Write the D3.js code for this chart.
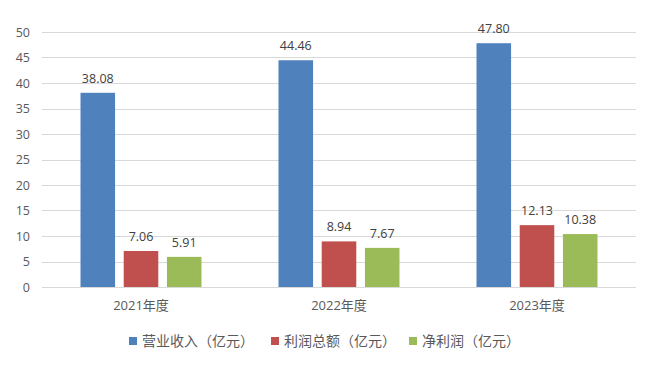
<!DOCTYPE html>
<html lang="zh">
<head>
<meta charset="UTF-8" />
<title>营业收入与利润</title>
<script src="https://d3js.org/d3.v7.min.js"></script>
<style>
  body { margin: 0; background: #fff; }
  text { font-family: "Open Sans", "Noto Sans CJK SC", sans-serif; }
</style>
</head>
<body>
<script>
// data
var categories = ["2021年度", "2022年度", "2023年度"];
var seriesNames = ["营业收入（亿元）", "利润总额（亿元）", "净利润（亿元）"];
var revenue = [38.08, 44.46, 47.80];
var totalProfit = [7.06, 8.94, 12.13];
var netProfit = [5.91, 7.67, 10.38];
var yTicks = [0, 5, 10, 15, 20, 25, 30, 35, 40, 45, 50];
var colors = ["#4f81bd", "#c0504d", "#9bbb59"];

var values = [revenue, totalProfit, netProfit];
var W = 662, H = 367;
var svg = d3.select("body").append("svg").attr("width", W).attr("height", H);

var x0 = d3.scaleBand().domain(categories).range([42, 636]);
var x1 = d3.scaleBand().domain(seriesNames).range([38.5, 159.5]).paddingInner(0.2);
var y = d3.scaleLinear().domain([0, 50]).range([287, 32]);

// gridlines
svg.append("g").selectAll("line").data(yTicks).join("line")
  .attr("x1", 42).attr("x2", 636)
  .attr("y1", function(d) { return Math.round(y(d)) + 0.5; })
  .attr("y2", function(d) { return Math.round(y(d)) + 0.5; })
  .attr("stroke", "#d9d9d9").attr("stroke-width", 1);

// y tick labels
svg.append("g").selectAll("text").data(yTicks).join("text")
  .attr("x", 30).attr("y", function(d) { return y(d) + 4.5; })
  .attr("text-anchor", "end").attr("font-size", 12.5).attr("fill", "#595959")
  .text(function(d) { return d; });

// bars
var groups = svg.append("g").selectAll("g").data(categories).join("g")
  .attr("transform", function(d) { return "translate(" + x0(d) + ",0)"; });

groups.each(function(cat, ci) {
  var g = d3.select(this);
  var rows = seriesNames.map(function(s, si) { return { s: s, v: values[si][ci], c: colors[si] }; });
  g.selectAll("rect").data(rows).join("rect")
    .attr("x", function(d) { return x1(d.s); })
    .attr("width", x1.bandwidth())
    .attr("y", function(d) { return y(d.v); })
    .attr("height", function(d) { return y(0) - y(d.v); })
    .attr("fill", function(d) { return d.c; });
  g.selectAll("text").data(rows).join("text")
    .attr("x", function(d) { return x1(d.s) + x1.bandwidth() / 2; })
    .attr("y", function(d) { return y(d.v) - 10; })
    .attr("text-anchor", "middle").attr("font-size", 12.5).attr("fill", "#404040")
    .text(function(d) { return d.v.toFixed(2); });
});

// x labels
svg.append("g").selectAll("text").data(categories).join("text")
  .attr("x", function(d) { return x0(d) + x0.bandwidth() / 2; })
  .attr("y", 310).attr("text-anchor", "middle").attr("font-size", 13).attr("fill", "#595959")
  .text(function(d) { return d; });

// legend
var legendX = [129, 271, 409];
var leg = svg.append("g").selectAll("g").data(seriesNames).join("g")
  .attr("transform", function(d, i) { return "translate(" + legendX[i] + ",337)"; });
leg.append("rect").attr("width", 8).attr("height", 8).attr("y", 0)
  .attr("fill", function(d, i) { return colors[i]; });
leg.append("text").attr("x", 13).attr("y", 9).attr("font-size", 14).attr("fill", "#595959")
  .text(function(d) { return d; });
</script>
</body>
</html>
